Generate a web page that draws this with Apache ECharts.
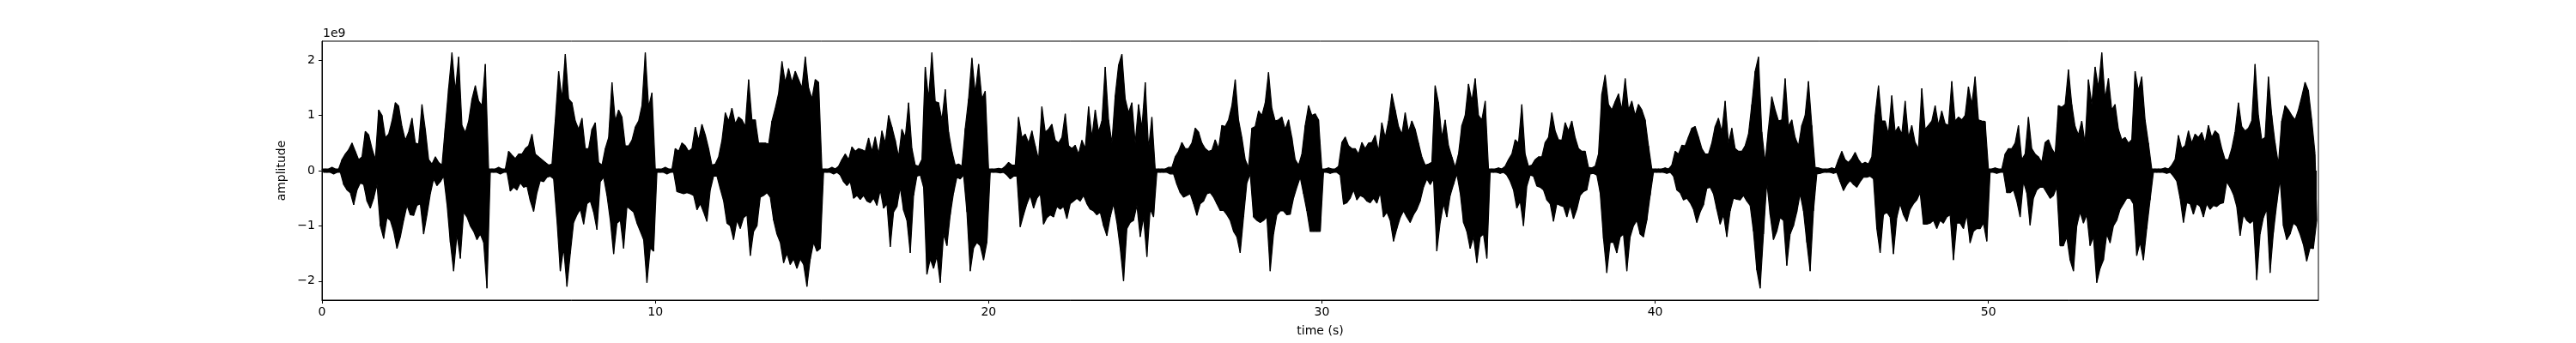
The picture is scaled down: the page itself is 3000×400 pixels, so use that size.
<!DOCTYPE html>
<html>
<head>
<meta charset="utf-8">
<script src="https://cdn.jsdelivr.net/npm/echarts@6/dist/echarts.min.js"></script>
<style>
  html, body { margin: 0; padding: 0; background: #fff; }
  #wave { width: 3000px; height: 400px; }
</style>
</head>
<body>
<div id="wave"></div>
<script>
// waveform envelope, one pair per 0.1 s bin, amplitude in units of 1e9
var binStep = 0.1;
var duration = 59.9;

var upper = [
  0.03,0.03,0.03,0.06,0.03,0.03,0.2,0.3,0.38,0.5,
  0.35,0.2,0.25,0.71,0.65,0.4,0.2,1.1,1.0,0.6,
  0.66,0.9,1.23,1.17,0.8,0.55,0.7,0.95,0.5,0.48,
  1.2,0.75,0.2,0.12,0.25,0.15,0.1,0.8,1.5,2.14,
  1.44,2.06,0.82,0.69,0.9,1.3,1.54,1.26,1.18,1.93,
  0.03,0.03,0.03,0.06,0.03,0.03,0.35,0.28,0.22,0.3,
  0.3,0.4,0.45,0.66,0.3,0.25,0.2,0.15,0.1,0.12,
  0.92,1.8,1.3,2.11,1.3,1.23,0.9,0.75,0.95,0.4,
  0.4,0.75,0.87,0.15,0.1,0.4,0.6,1.6,0.9,1.1,
  0.97,0.45,0.45,0.55,0.79,0.9,1.18,2.14,1.15,1.41,
  0.03,0.03,0.03,0.06,0.03,0.03,0.4,0.35,0.5,0.45,
  0.35,0.4,0.79,0.55,0.84,0.65,0.4,0.1,0.12,0.25,
  0.55,1.05,0.9,1.13,0.85,0.97,0.92,0.8,1.65,0.92,
  0.92,0.5,0.5,0.5,0.48,0.9,1.13,1.4,1.98,1.6,
  1.85,1.6,1.8,1.65,1.5,2.06,1.5,1.3,1.65,1.6,
  0.03,0.03,0.03,0.06,0.03,0.08,0.2,0.3,0.2,0.43,
  0.35,0.4,0.38,0.35,0.59,0.35,0.61,0.3,0.72,0.5,
  1.0,0.79,0.55,0.25,0.75,0.6,1.23,0.4,0.1,0.08,
  0.2,1.88,1.3,2.14,1.25,1.23,0.92,1.47,0.7,0.35,
  0.1,0.12,0.08,0.77,1.3,2.04,1.4,1.93,1.3,1.44,
  0.03,0.03,0.03,0.04,0.03,0.08,0.15,0.1,0.1,0.97,
  0.6,0.66,0.5,0.72,0.45,0.2,1.16,0.7,0.75,0.84,
  0.55,0.5,0.6,1.03,0.45,0.4,0.46,0.3,0.55,0.4,
  1.16,0.6,1.1,0.7,0.9,1.88,0.92,0.5,1.36,1.91,
  2.11,1.3,1.05,1.23,0.5,1.2,0.77,1.6,0.4,0.97,
  0.03,0.03,0.03,0.03,0.06,0.06,0.25,0.35,0.51,0.4,
  0.4,0.5,0.77,0.7,0.5,0.4,0.35,0.37,0.56,0.4,
  0.82,0.8,0.92,1.18,1.65,0.92,0.6,0.2,0.06,0.77,
  0.8,1.08,1.0,1.23,1.78,1.13,0.9,0.92,0.97,0.75,
  0.92,0.6,0.2,0.1,0.3,0.82,1.18,1.0,1.03,0.92,
  0.03,0.03,0.05,0.03,0.03,0.08,0.51,0.61,0.45,0.4,
  0.4,0.3,0.51,0.4,0.5,0.51,0.64,0.35,0.87,0.6,
  0.9,1.39,1.1,0.8,0.66,1.05,0.7,0.9,0.75,0.5,
  0.25,0.1,0.12,0.15,1.54,1.23,0.6,0.92,0.45,0.25,
  0.06,0.3,0.82,1.0,1.57,1.26,1.67,1.0,0.92,1.26,
  0.03,0.03,0.03,0.05,0.03,0.08,0.2,0.3,0.56,0.5,
  1.2,0.3,0.08,0.1,0.2,0.25,0.25,0.51,0.6,1.05,
  0.72,0.56,0.55,0.87,0.72,0.9,0.6,0.4,0.35,0.35,
  0.06,0.05,0.08,0.3,1.39,1.73,1.2,1.1,1.25,1.39,
  1.1,1.67,1.1,1.26,1.0,1.2,1.1,0.92,0.45,0.03,
  0.03,0.03,0.03,0.05,0.03,0.1,0.35,0.3,0.46,0.45,
  0.61,0.77,0.8,0.61,0.4,0.3,0.3,0.5,0.8,0.95,
  0.7,1.26,0.5,0.77,0.4,0.35,0.35,0.45,0.66,1.2,
  1.8,2.06,0.7,0.15,0.77,1.34,1.1,0.9,0.92,1.67,
  0.8,0.92,0.6,0.45,0.82,1.0,1.62,0.82,0.06,0.05,
  0.03,0.03,0.03,0.05,0.03,0.2,0.35,0.2,0.15,0.22,
  0.33,0.2,0.12,0.15,0.12,0.25,1.0,1.54,0.9,0.9,
  0.66,1.36,0.7,0.8,0.66,1.26,0.6,0.82,0.51,0.4,
  1.49,0.75,0.82,0.9,1.18,0.82,1.08,0.85,0.82,1.62,
  0.9,0.97,0.92,1.0,1.52,1.2,1.7,0.92,0.9,0.89,
  0.03,0.03,0.05,0.03,0.03,0.3,0.4,0.4,0.5,0.82,
  0.2,0.3,0.97,0.4,0.3,0.25,0.15,0.51,0.56,0.4,
  0.3,1.18,1.15,1.2,1.83,1.2,0.8,0.65,0.9,0.5,
  1.65,1.2,1.88,1.5,2.14,1.3,1.67,1.1,1.2,0.75,
  0.56,0.6,0.5,0.56,1.8,1.45,1.7,0.92,0.5,0.03,
  0.03,0.03,0.03,0.05,0.03,0.1,0.2,0.64,0.4,0.45,
  0.72,0.5,0.66,0.6,0.69,0.5,0.82,0.6,0.72,0.66,
  0.4,0.2,0.2,0.4,0.7,1.23,0.8,0.72,0.77,0.9,
  1.93,1.0,0.56,0.6,1.7,1.0,0.5,0.12,0.9,1.18,
  1.1,1.0,0.92,1.1,1.34,1.6,1.45,0.92,0.3
];

var lower = [
  -0.03,-0.03,-0.03,-0.06,-0.03,-0.03,-0.25,-0.35,-0.4,-0.62,
  -0.35,-0.22,-0.25,-0.55,-0.68,-0.5,-0.25,-1.0,-1.23,-0.85,
  -0.9,-1.1,-1.41,-1.2,-0.9,-0.63,-0.8,-0.81,-0.63,-0.6,
  -1.15,-0.8,-0.42,-0.15,-0.27,-0.2,-0.1,-0.6,-1.3,-1.82,
  -1.15,-1.59,-0.75,-0.84,-1.0,-1.1,-1.25,-1.15,-1.3,-2.13,
  -0.03,-0.03,-0.03,-0.06,-0.03,-0.03,-0.37,-0.3,-0.35,-0.22,
  -0.3,-0.28,-0.55,-0.74,-0.4,-0.18,-0.2,-0.12,-0.1,-0.15,
  -0.9,-1.82,-1.4,-2.1,-1.5,-0.94,-0.8,-0.7,-0.97,-0.6,
  -0.55,-0.75,-1.07,-0.2,-0.12,-0.45,-0.9,-1.51,-0.95,-0.9,
  -1.41,-0.65,-0.7,-0.75,-0.95,-1.1,-1.25,-2.03,-1.4,-1.46,
  -0.03,-0.03,-0.03,-0.06,-0.03,-0.03,-0.38,-0.4,-0.42,-0.4,
  -0.42,-0.45,-0.71,-0.6,-0.75,-0.92,-0.35,-0.1,-0.1,-0.33,
  -0.55,-0.95,-1.0,-1.25,-0.9,-1.05,-0.85,-0.8,-1.54,-1.1,
  -1.0,-0.48,-0.45,-0.4,-0.48,-0.9,-1.15,-1.3,-1.67,-1.5,
  -1.7,-1.6,-1.77,-1.6,-1.7,-2.1,-1.6,-1.3,-1.46,-1.41,
  -0.03,-0.03,-0.03,-0.06,-0.03,-0.08,-0.2,-0.27,-0.2,-0.5,
  -0.45,-0.52,-0.45,-0.55,-0.58,-0.5,-0.63,-0.35,-0.68,-0.6,
  -1.38,-0.75,-0.65,-0.3,-0.72,-0.9,-1.49,-0.45,-0.1,-0.08,
  -0.3,-1.88,-1.6,-1.77,-1.55,-2.03,-1.15,-1.36,-0.8,-0.4,
  -0.12,-0.15,-0.08,-0.75,-1.82,-1.4,-1.3,-1.36,-1.62,-1.3,
  -0.03,-0.03,-0.03,-0.04,-0.03,-0.08,-0.15,-0.1,-0.1,-1.02,
  -0.8,-0.6,-0.45,-0.68,-0.5,-0.42,-0.97,-0.85,-0.8,-0.84,
  -0.65,-0.7,-0.65,-0.87,-0.6,-0.55,-0.5,-0.55,-0.45,-0.6,
  -0.7,-0.73,-0.8,-0.75,-1.0,-1.18,-0.84,-0.6,-0.94,-1.41,
  -2.0,-1.05,-0.94,-0.9,-0.63,-1.2,-0.84,-1.56,-0.7,-0.84,
  -0.03,-0.03,-0.03,-0.03,-0.06,-0.06,-0.25,-0.4,-0.48,-0.45,
  -0.42,-0.6,-0.81,-0.6,-0.55,-0.42,-0.4,-0.48,-0.6,-0.72,
  -0.72,-0.8,-0.9,-1.1,-1.2,-1.49,-0.84,-0.22,-0.06,-0.84,
  -0.9,-0.94,-0.9,-0.84,-1.82,-1.15,-0.8,-0.73,-0.73,-0.8,
  -0.79,-0.5,-0.3,-0.12,-0.42,-0.73,-1.1,-1.1,-1.1,-1.1,
  -0.03,-0.03,-0.05,-0.03,-0.03,-0.08,-0.61,-0.58,-0.5,-0.35,
  -0.53,-0.45,-0.48,-0.55,-0.58,-0.5,-0.59,-0.4,-0.84,-0.75,
  -0.9,-1.28,-1.05,-0.85,-0.73,-0.84,-0.94,-0.8,-0.7,-0.55,
  -0.3,-0.15,-0.25,-0.15,-1.46,-0.94,-0.6,-0.84,-0.45,-0.25,
  -0.06,-0.4,-0.94,-1.1,-1.41,-1.2,-1.67,-1.2,-1.15,-1.59,
  -0.03,-0.03,-0.03,-0.05,-0.03,-0.08,-0.19,-0.35,-0.68,-0.55,
  -1.0,-0.28,-0.08,-0.1,-0.28,-0.3,-0.35,-0.53,-0.6,-0.92,
  -0.6,-0.63,-0.65,-0.84,-0.63,-0.87,-0.7,-0.45,-0.38,-0.35,
  -0.06,-0.05,-0.08,-0.4,-1.23,-1.85,-1.3,-1.3,-1.49,-1.2,
  -1.15,-1.82,-1.2,-1.0,-0.9,-1.15,-1.2,-0.9,-0.45,-0.03,
  -0.03,-0.03,-0.03,-0.05,-0.03,-0.1,-0.35,-0.4,-0.53,-0.5,
  -0.58,-0.7,-0.94,-0.75,-0.62,-0.32,-0.3,-0.42,-0.7,-0.97,
  -0.8,-1.2,-0.73,-0.5,-0.52,-0.53,-0.45,-0.55,-0.63,-1.1,
  -1.8,-2.13,-1.15,-0.2,-0.8,-1.25,-1.1,-0.85,-0.9,-1.72,
  -1.15,-1.0,-0.75,-0.42,-0.73,-1.3,-1.82,-0.73,-0.06,-0.05,
  -0.03,-0.03,-0.03,-0.05,-0.03,-0.2,-0.36,-0.25,-0.18,-0.25,
  -0.3,-0.2,-0.12,-0.12,-0.1,-0.15,-1.05,-1.49,-0.8,-0.75,
  -0.84,-1.51,-0.85,-0.6,-0.8,-0.92,-0.7,-0.6,-0.53,-0.4,
  -0.97,-0.97,-0.95,-0.9,-1.05,-0.9,-0.95,-0.84,-0.8,-1.62,
  -0.95,-0.95,-1.05,-0.8,-1.31,-1.1,-1.05,-1.05,-0.95,-1.28,
  -0.03,-0.03,-0.05,-0.03,-0.03,-0.4,-0.4,-0.35,-0.55,-0.84,
  -0.2,-0.4,-0.99,-0.5,-0.35,-0.3,-0.3,-0.4,-0.5,-0.45,
  -0.3,-1.36,-1.36,-1.2,-1.62,-1.82,-1.0,-0.75,-0.95,-0.8,
  -1.36,-1.2,-2.03,-1.77,-1.62,-1.15,-1.31,-1.0,-0.9,-0.7,
  -0.6,-0.5,-0.5,-0.6,-1.54,-1.3,-1.62,-1.05,-0.53,-0.03,
  -0.03,-0.03,-0.03,-0.05,-0.03,-0.1,-0.19,-0.5,-0.94,-0.58,
  -0.6,-0.79,-0.6,-0.65,-0.84,-0.6,-0.7,-0.63,-0.65,-0.6,
  -0.58,-0.2,-0.3,-0.43,-0.65,-1.18,-0.8,-0.9,-0.95,-0.9,
  -1.98,-1.15,-0.85,-0.7,-1.85,-1.12,-0.6,-0.15,-1.0,-1.25,
  -1.15,-0.95,-1.0,-1.15,-1.34,-1.64,-1.4,-1.41,-0.9
];

var xTicks = [0, 10, 20, 30, 40, 50];
var yTicks = [-2, -1, 0, 1, 2];

// positive peaks sit at the start of each bin, negative peaks half a bin later
var upperPts = [];
var lowerPts = [];
var wave = [];
for (var i = 0; i < upper.length; i++) {
    var t = i * binStep;
    upperPts.push([t, upper[i]]);
    lowerPts.push([t + binStep / 2, lower[i]]);
    wave.push([t, upper[i]]);
    wave.push([t + binStep / 2, lower[i]]);
}

var font = 'DejaVu Sans';
var myChart = echarts.init(document.getElementById('wave'));
option = {
    animation: false,
    backgroundColor: '#fff',
    grid: {
        left: 375,
        right: 300,
        top: 48,
        bottom: 50,
        show: true,
        borderColor: '#000',
        borderWidth: 1,
        backgroundColor: 'transparent'
    },
    graphic: [{
        type: 'text',
        left: 376,
        top: 32,
        style: { text: '1e9', font: '14px "DejaVu Sans"', fill: '#000' }
    }],
    xAxis: {
        type: 'value',
        min: 0,
        max: duration,
        name: 'time (s)',
        nameLocation: 'middle',
        nameGap: 29,
        nameTextStyle: { color: '#000', fontSize: 14, fontFamily: font },
        axisLine: { onZero: false, lineStyle: { color: '#000', width: 1 } },
        axisTick: { length: 4, customValues: xTicks, lineStyle: { color: '#000', width: 1 } },
        axisLabel: { customValues: xTicks, margin: 7, color: '#000', fontSize: 14, fontFamily: font },
        splitLine: { show: false }
    },
    yAxis: {
        type: 'value',
        min: -2.345,
        max: 2.345,
        name: 'amplitude',
        nameLocation: 'middle',
        nameRotate: 90,
        nameGap: 36,
        nameTextStyle: { color: '#000', fontSize: 14, fontFamily: font },
        axisLine: { lineStyle: { color: '#000', width: 1 } },
        axisTick: { length: 4, customValues: yTicks, lineStyle: { color: '#000', width: 1 } },
        axisLabel: {
            customValues: yTicks,
            margin: 8,
            color: '#000',
            fontSize: 14,
            fontFamily: font,
            formatter: function (v) { return v < 0 ? '\u2212' + Math.abs(v) : String(v); }
        },
        splitLine: { show: false }
    },
    series: [
        {
            name: 'positive',
            type: 'line',
            data: upperPts,
            symbol: 'none',
            sampling: null,
            lineStyle: { color: '#000', width: 1.2 },
            areaStyle: { color: '#000', opacity: 1 }
        },
        {
            name: 'negative',
            type: 'line',
            data: lowerPts,
            symbol: 'none',
            sampling: null,
            lineStyle: { color: '#000', width: 1.2 },
            areaStyle: { color: '#000', opacity: 1 }
        },
        {
            name: 'amplitude',
            type: 'line',
            data: wave,
            symbol: 'none',
            sampling: null,
            lineStyle: { color: '#000', width: 1.2 }
        }
    ]
};
myChart.setOption(option);
</script>
</body>
</html>
